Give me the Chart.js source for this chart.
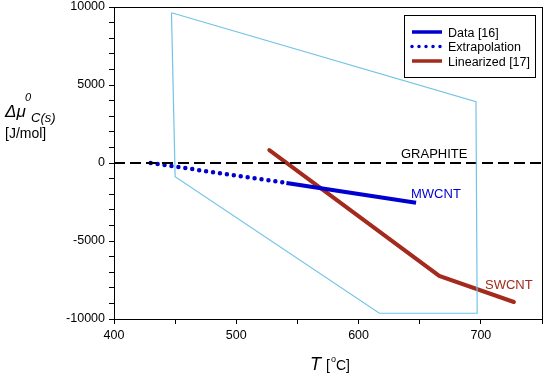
<!DOCTYPE html>
<html>
<head>
<meta charset="utf-8">
<script src="https://cdn.jsdelivr.net/npm/chart.js@4"></script>
<style>
  html, body { margin: 0; padding: 0; background: #fff; }
  #wrap { width: 550px; height: 381px; }
</style>
</head>
<body>
<div id="wrap"><canvas id="c" width="550" height="381"></canvas></div>
<script>
// values
const tData = [541, 647];
const muData = [-1280, -2550];
const tExtrap = [430, 541];
const muExtrap = [0, -1280];
const tLinear = [527, 666, 727];
const muLinear = [830, -7240, -8910];
const tRegion = [447, 450, 617, 697, 696, 447];
const muRegion = [9630, -880, -9630, -9630, 3930, 9630];
const tGraphite = [400, 750];
const muGraphite = [0, 0];
const xTicks = [400, 500, 600, 700];
const yTicks = [-10000, -5000, 0, 5000, 10000];

const pts = (xs, ys) => xs.map((x, i) => ({ x: x, y: ys[i] }));
const FONT = "'Liberation Sans', Arial, sans-serif";

// frame, labels, axis titles and legend box
const extras = {
  id: "extras",
  afterDraw(chart) {
    const ctx = chart.ctx;
    const a = chart.chartArea;
    ctx.save();
    ctx.strokeStyle = "#000";
    ctx.lineWidth = 1;
    ctx.strokeRect(a.left + 0.5, a.top + 0.5, a.right - a.left, a.bottom - a.top);

    ctx.textBaseline = "alphabetic";
    ctx.font = "13px " + FONT;
    ctx.fillStyle = "#000";
    ctx.fillText("GRAPHITE", 401, 158);
    ctx.fillStyle = "#0000d0";
    ctx.fillText("MWCNT", 411, 198);
    ctx.fillStyle = "#a32a1c";
    ctx.fillText("SWCNT", 485, 289);

    // y title
    ctx.fillStyle = "#000";
    ctx.font = "italic 17px " + FONT;
    ctx.fillText("\u0394\u03bc", 5, 117);
    ctx.font = "italic 11px " + FONT;
    ctx.fillText("0", 25, 101);
    ctx.font = "italic 13px " + FONT;
    ctx.fillText("C(s)", 31, 122);
    ctx.font = "14px " + FONT;
    ctx.fillText("[J/mol]", 5, 138);

    // x title
    ctx.font = "italic 18px " + FONT;
    ctx.fillText("T", 310, 370);
    ctx.font = "14px " + FONT;
    ctx.fillText("[", 326, 370);
    ctx.font = "9px " + FONT;
    ctx.fillText("o", 331, 362);
    ctx.font = "14px " + FONT;
    ctx.fillText("C]", 336, 370);

    // legend
    const lx = 404, ly = 15, lw = 131, lh = 62;
    ctx.fillStyle = "#fff";
    ctx.fillRect(lx, ly, lw, lh);
    ctx.strokeStyle = "#000";
    ctx.strokeRect(lx + 0.5, ly + 0.5, lw, lh);
    const items = chart.data.datasets.filter(d => d.inLegend);
    items.forEach((d, i) => {
      const y = ly + 17 + i * 14.5;
      ctx.strokeStyle = d.borderColor;
      ctx.lineWidth = 3.5;
      ctx.lineCap = d.borderDash ? "round" : "butt";
      ctx.setLineDash(d.borderDash || []);
      ctx.beginPath();
      ctx.moveTo(412, y);
      ctx.lineTo(442, y);
      ctx.stroke();
      ctx.setLineDash([]);
      ctx.fillStyle = "#000";
      ctx.font = "12.5px " + FONT;
      ctx.fillText(d.label, 448, y + 4.5);
    });
    ctx.restore();
  }
};

new Chart(document.getElementById("c"), {
  type: "scatter",
  data: {
    datasets: [
      {
        label: "region",
        data: pts(tRegion, muRegion),
        showLine: true,
        borderColor: "#72c4e6",
        borderWidth: 1.2,
        pointRadius: 0
      },
      {
        label: "graphite",
        data: pts(tGraphite, muGraphite),
        showLine: true,
        borderColor: "#000",
        borderWidth: 2,
        borderDash: [11, 5],
        pointRadius: 0
      },
      {
        label: "Data [16]",
        inLegend: true,
        data: pts(tData, muData),
        showLine: true,
        borderColor: "#0000d0",
        borderWidth: 4,
        pointRadius: 0
      },
      {
        label: "Extrapolation",
        inLegend: true,
        data: pts(tExtrap, muExtrap),
        showLine: true,
        borderColor: "#0000d0",
        borderWidth: 4.5,
        borderDash: [0, 7],
        borderCapStyle: "round",
        pointRadius: 0
      },
      {
        label: "Linearized [17]",
        inLegend: true,
        data: pts(tLinear, muLinear),
        showLine: true,
        borderColor: "#a32a1c",
        borderWidth: 4,
        borderCapStyle: "round",
        pointRadius: 0
      }
    ]
  },
  options: {
    responsive: false,
    animation: false,
    layout: { padding: { top: 7, right: 8, left: 0, bottom: 0 } },
    plugins: { legend: { display: false }, tooltip: { enabled: false } },
    scales: {
      x: {
        type: "linear",
        min: 400,
        max: 750,
        afterFit: s => { s.height = 62; s.paddingLeft = 0; s.paddingRight = 0; },
        afterBuildTicks: s => { s.ticks = [400, 450, 500, 550, 600, 650, 700, 750].map(v => ({ value: v })); },
        ticks: {
          color: "#000",
          font: { family: FONT, size: 12.5 },
          maxRotation: 0,
          padding: 4,
          callback: v => xTicks.includes(v) ? String(v) : ""
        },
        grid: { drawOnChartArea: false, tickLength: 5, color: "#000" },
        border: { color: "#000" }
      },
      y: {
        type: "linear",
        min: -10000,
        max: 10000,
        afterFit: s => { s.width = 114; s.paddingTop = 0; s.paddingBottom = 0; },
        afterBuildTicks: s => {
          const t = [];
          for (let v = -10000; v <= 10000; v += 1000) t.push({ value: v });
          s.ticks = t;
        },
        ticks: {
          color: "#000",
          font: { family: FONT, size: 12.5 },
          padding: 4,
          autoSkip: false,
          callback: v => yTicks.includes(v) ? String(v) : ""
        },
        grid: { drawOnChartArea: false, tickLength: 5, color: "#000" },
        border: { color: "#000" }
      }
    }
  },
  plugins: [extras]
});
</script>
</body>
</html>
